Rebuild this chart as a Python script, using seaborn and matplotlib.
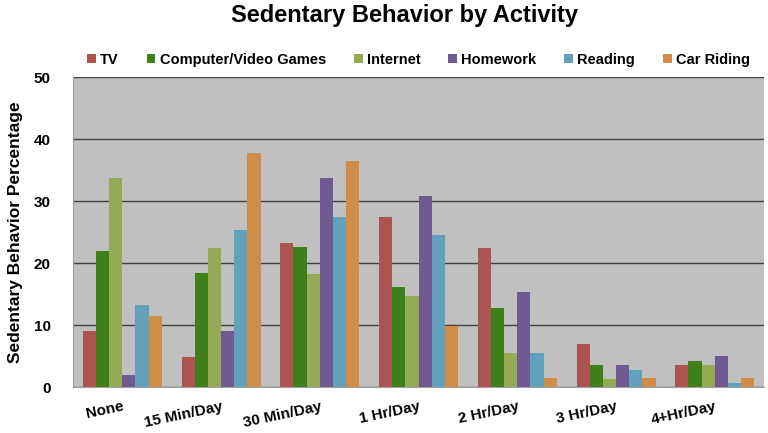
import numpy as np
import pandas as pd
import seaborn as sns
import matplotlib.pyplot as plt
from matplotlib.ticker import FixedLocator

categories = ['None', '15 Min/Day', '30 Min/Day', '1 Hr/Day', '2 Hr/Day', '3 Hr/Day', '4+Hr/Day']
activities = ['TV', 'Computer/Video Games', 'Internet', 'Homework', 'Reading', 'Car Riding']

tv = [9.0, 4.9, 23.3, 27.4, 22.4, 7.0, 3.5]
computer = [21.9, 18.4, 22.6, 16.2, 12.7, 3.5, 4.2]
internet = [33.7, 22.4, 18.2, 14.7, 5.5, 1.3, 3.5]
homework = [2.0, 9.0, 33.7, 30.9, 15.4, 3.5, 5.0]
reading = [13.3, 25.3, 27.4, 24.6, 5.5, 2.8, 0.7]
car_riding = [11.4, 37.8, 36.4, 9.9, 1.5, 1.5, 1.5]

colors = ['#AB5452', '#40801A', '#94AA55', '#6F5A92', '#63A0BC', '#CF8D47']

rows = []
for act, vals in zip(activities, [tv, computer, internet, homework, reading, car_riding]):
    for cat, v in zip(categories, vals):
        rows.append({'time': cat, 'activity': act, 'pct': v})
df = pd.DataFrame(rows)

sns.set_style('white')
plt.rcParams['font.family'] = ['Liberation Sans', 'DejaVu Sans']
plt.rcParams['text.color'] = 'black'
plt.rcParams['axes.labelcolor'] = 'black'
plt.rcParams['xtick.labelcolor'] = 'black'
plt.rcParams['ytick.labelcolor'] = 'black'

fig = plt.figure(figsize=(7.68, 4.33), dpi=100)
ax = fig.add_axes([0.095, 0.106, 0.9, 0.716])
ax.set_facecolor('#C0C0C0')

sns.barplot(data=df, x='time', y='pct', hue='activity', order=categories,
            hue_order=activities, palette=colors, width=0.8, saturation=1,
            linewidth=0, ax=ax)

ax.set_ylim(0, 50)
ax.set_xlim(-0.5, len(categories) - 0.5)
ax.set_yticks([0, 10, 20, 30, 40, 50])
ax.yaxis.grid(True, color='#404040', linewidth=1)
ax.set_axisbelow(True)
for lbl in ax.get_yticklabels():
    lbl.set_fontweight('bold')
    lbl.set_fontsize(11)
ax.tick_params(axis='y', length=0, pad=16, labelcolor='black')

ax.tick_params(axis='x', which='major', length=0, pad=9, labelcolor='black')
ax.xaxis.set_minor_locator(FixedLocator(np.arange(-0.5, len(categories), 1.0)))
ax.tick_params(axis='x', which='minor', length=5, color='#909090', width=1, direction='out')
ax.set_xticks(range(len(categories)))
ax.set_xticklabels(categories, rotation=12, ha='right', rotation_mode='anchor',
                   fontweight='bold', fontsize=11)

for s in ['top', 'right']:
    ax.spines[s].set_visible(False)
ax.spines['left'].set_color('#A0A0A0')
ax.spines['bottom'].set_color('#A0A0A0')

ax.set_xlabel('')
ax.set_ylabel('Sedentary Behavior Percentage', fontsize=12.5, fontweight='bold', labelpad=8)

ax.legend(loc='lower center', bbox_to_anchor=(0.5, 1.0), ncol=6, frameon=False,
          prop={'weight': 'bold', 'size': 10.5}, handlelength=0.6, handleheight=0.6,
          handletextpad=0.3, columnspacing=1.9, borderaxespad=0.3)

fig.suptitle('Sedentary Behavior by Activity', x=0.527, y=0.99, fontsize=17, fontweight='bold')

plt.savefig('out.png', dpi=100)
